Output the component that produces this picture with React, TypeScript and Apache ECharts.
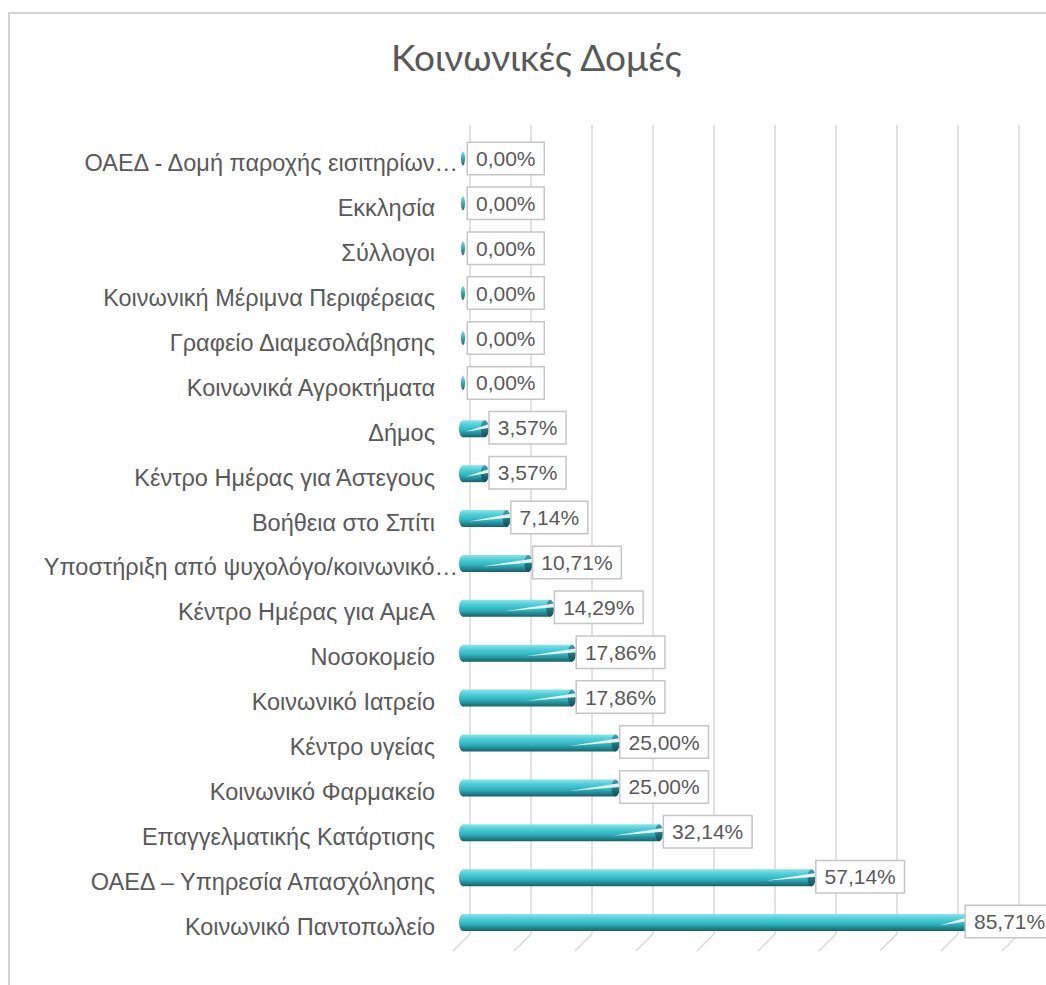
import React, { useEffect, useRef } from "react";
import * as echarts from "echarts";

const titleText = "Κοινωνικές Δομές";

const categories = [
  "ΟΑΕΔ - Δομή παροχής εισιτηρίων…",
  "Εκκλησία",
  "Σύλλογοι",
  "Κοινωνική Μέριμνα Περιφέρειας",
  "Γραφείο Διαμεσολάβησης",
  "Κοινωνικά Αγροκτήματα",
  "Δήμος",
  "Κέντρο Ημέρας για Άστεγους",
  "Βοήθεια στο Σπίτι",
  "Υποστήριξη από ψυχολόγο/κοινωνικό…",
  "Κέντρο Ημέρας για ΑμεΑ",
  "Νοσοκομείο",
  "Κοινωνικό Ιατρείο",
  "Κέντρο υγείας",
  "Κοινωνικό Φαρμακείο",
  "Επαγγελματικής Κατάρτισης",
  "ΟΑΕΔ – Υπηρεσία Απασχόλησης",
  "Κοινωνικό Παντοπωλείο",
];

const values = [
  0, 0, 0, 0, 0, 0, 3.57, 3.57, 7.14, 10.71, 14.29, 17.86, 17.86, 25.0, 25.0,
  32.14, 57.14, 85.71,
];

const gridTicks = [0, 10, 20, 30, 40, 50, 60, 70, 80, 90, 100];

const fmt = (v: number) => v.toFixed(2).replace(".", ",") + "%";

export default function App() {
  const ref = useRef<HTMLDivElement>(null);

  useEffect(() => {
    const chart = echarts.init(ref.current!, null, { renderer: "svg" });
    const textColor = "#595959";
    const labelFont = '"Liberation Sans", Arial, sans-serif';

    const option: any = {
      animation: false,
      backgroundColor: "#ffffff",
      title: {
        text: titleText,
        left: 386,
        top: 33,
        textStyle: {
          fontFamily: "Lato",
          fontSize: 37,
          fontWeight: "normal",
          color: textColor,
        },
      },
      graphic: [
        {
          type: "rect",
          shape: { x: 9, y: 13, width: 1200, height: 1100 },
          style: { fill: "none", stroke: "#d4d4d4", lineWidth: 2 },
          silent: true,
        },
      ],
      grid: {
        left: 470,
        top: 140,
        width: 610,
        height: 808,
        outerBoundsMode: "none",
        containLabel: false,
      },
      xAxis: {
        type: "value",
        min: 0,
        max: 100,
        interval: 10,
        axisLabel: { show: false },
        axisLine: { show: false },
        axisTick: { show: false },
        splitLine: { show: false },
      },
      yAxis: {
        type: "category",
        data: categories,
        inverse: true,
        axisLabel: { show: false },
        axisLine: { show: false },
        axisTick: { show: false },
        splitLine: { show: false },
      },
      series: [
        {
          type: "custom",
          name: "grid",
          silent: true,
          z: 1,
          data: gridTicks.map((t) => [t, 0]),
          encode: { x: 0, y: 1 },
          renderItem: (params: any, api: any) => {
            const x = api.coord([api.value(0), 0])[0];
            const cs = params.coordSys;
            const top = cs.y - 15;
            const bottom = cs.y + cs.height - 14;
            return {
              type: "group",
              children: [
                {
                  type: "line",
                  shape: { x1: x, y1: top, x2: x, y2: bottom },
                  style: { stroke: "#d9d9d9", lineWidth: 1.5 },
                },
                {
                  type: "line",
                  shape: { x1: x, y1: bottom, x2: x - 17, y2: bottom + 17 },
                  style: { stroke: "#d9d9d9", lineWidth: 1.5 },
                },
              ],
            };
          },
        },
        {
          type: "custom",
          name: "Κοινωνικές Δομές",
          z: 2,
          data: values.map((v, i) => [v, i]),
          encode: { x: 0, y: 1 },
          renderItem: (params: any, api: any) => {
            const v = api.value(0);
            const idx = api.value(1);
            const p0 = api.coord([0, idx]);
            const p1 = api.coord([v, idx]);
            const cy = p0[1] - 3;
            const h = 17;
            const x0 = p0[0] - 7;
            const x1 = p1[0] - 7;
            const body = x1 - x0;
            const grad = new echarts.graphic.LinearGradient(0, 0, 0, 1, [
              { offset: 0, color: "#8ee4ea" },
              { offset: 0.25, color: "#52d0da" },
              { offset: 0.6, color: "#2eb2be" },
              { offset: 0.85, color: "#217f89" },
              { offset: 1, color: "#17606a" },
            ]);
            const capGrad = new echarts.graphic.LinearGradient(0, 0, 0, 1, [
              { offset: 0, color: "#3aa9b3" },
              { offset: 0.5, color: "#207a83" },
              { offset: 1, color: "#134f56" },
            ]);
            const zeroGrad = new echarts.graphic.LinearGradient(0, 0, 0, 1, [
              { offset: 0, color: "#7fdbe2" },
              { offset: 0.5, color: "#3aa9b3" },
              { offset: 1, color: "#2a6f5e" },
            ]);
            const children: any[] = [];
            if (body > 0) {
              children.push({
                type: "ellipse",
                shape: { cx: x0, cy, rx: 4, ry: h / 2 },
                style: { fill: grad },
              });
              children.push({
                type: "rect",
                shape: { x: x0, y: cy - h / 2, width: body, height: h },
                style: { fill: grad },
              });
              children.push({
                type: "ellipse",
                shape: { cx: x1, cy, rx: 4, ry: h / 2 },
                style: { fill: capGrad },
              });
            } else {
              children.push({
                type: "ellipse",
                shape: { cx: x1, cy: cy - 1, rx: 2, ry: 7 },
                style: { fill: zeroGrad },
              });
            }
            // keep the label inside the chart area (as the original does)
            const maxLabelX = params.coordSys.x + 496;
            const lx = Math.min(x1 + 5, maxLabelX);
            if (body > 10) {
              const L = Math.min(46, body - 6);
              const sx = Math.min(x1 - L, lx - 24);
              children.push({
                type: "polygon",
                shape: {
                  points: [
                    [sx, cy + 3],
                    [lx, cy - 5],
                    [lx, cy - 1],
                  ],
                },
                style: { fill: "#e9eeee" },
              });
            }
            children.push({
              type: "text",
              style: {
                text: fmt(v),
                x: lx,
                y: cy - 1,
                align: "left",
                verticalAlign: "middle",
                fill: textColor,
                fontSize: 21,
                fontFamily: labelFont,
                backgroundColor: "#ffffff",
                borderColor: "#c6c6c6",
                borderWidth: 1.5,
                padding: [5, 8, 5, 8],
              },
            });
            const name = categories[idx];
            const truncated = name.endsWith("…");
            children.push({
              type: "text",
              style: {
                text: name,
                x: p0[0] - (truncated ? 12 : 35),
                y: p0[1] + 1,
                align: "right",
                verticalAlign: "middle",
                fill: textColor,
                fontSize: 23.5,
                fontFamily: labelFont,
              },
            });
            return { type: "group", children };
          },
        },
      ],
    };

    chart.setOption(option);
    return () => chart.dispose();
  }, []);

  return (
    <div
      ref={ref}
      style={{ position: "fixed", left: 0, top: 0, width: 1046, height: 985 }}
    />
  );
}
